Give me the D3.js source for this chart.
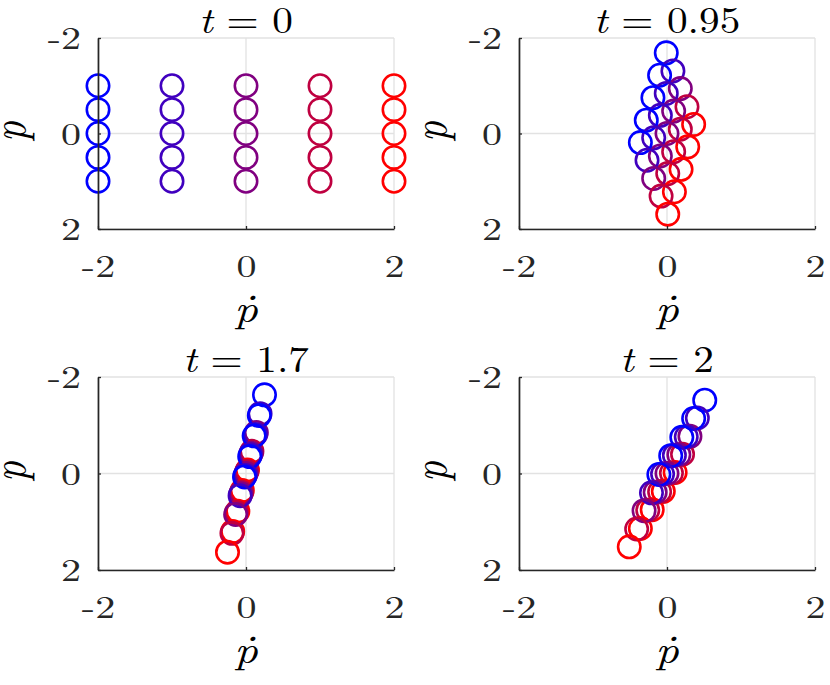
<!DOCTYPE html>
<html><head><meta charset="utf-8">
<script src="https://cdn.jsdelivr.net/npm/d3@7/dist/d3.min.js"></script>
<style>body{margin:0;background:#fff}svg{display:block}</style>
</head><body>
<svg id="chart" width="830" height="685"></svg>
<script>
// ---- data ----
const axisTicks = [-2, 0, 2];
const tickLabels = ["-2", "0", "2"];
const timeLabels = ["0", "0.95", "1.7", "2"];
const columnColors = ["#0000ff", "#4000bf", "#800080", "#bf0040", "#ff0000"];
// colour column (initial pdot index) of each of the 25 points, row by row
const colorIndex = [0,1,2,3,4, 0,1,2,3,4, 0,1,2,3,4, 0,1,2,3,4, 0,1,2,3,4];

// t = 0
const pdotT0 = [-2,-1,0,1,2, -2,-1,0,1,2, -2,-1,0,1,2, -2,-1,0,1,2, -2,-1,0,1,2];
const pT0    = [-1,-1,-1,-1,-1, -0.5,-0.5,-0.5,-0.5,-0.5, 0,0,0,0,0, 0.5,0.5,0.5,0.5,0.5, 1,1,1,1,1];
// t = 0.95
const pdotT1 = [-0.01,0.08,0.18,0.27,0.36, -0.10,-0.01,0.09,0.18,0.28, -0.19,-0.09,0,0.09,0.19, -0.28,-0.18,-0.09,0.01,0.10, -0.36,-0.27,-0.18,-0.08,0.01];
const pT1    = [-1.69,-1.31,-0.94,-0.56,-0.19, -1.22,-0.84,-0.47,-0.09,0.28, -0.75,-0.38,0,0.38,0.75, -0.28,0.09,0.47,0.84,1.22, 0.19,0.56,0.94,1.31,1.69];
// t = 1.7
const pdotT2 = [0.25,0.19,0.14,0.08,0.02, 0.18,0.13,0.07,0.01,-0.05, 0.11,0.06,0,-0.06,-0.11, 0.05,-0.01,-0.07,-0.13,-0.18, -0.02,-0.08,-0.14,-0.19,-0.25];
const pT2    = [-1.63,-1.24,-0.85,-0.46,-0.07, -1.20,-0.81,-0.42,-0.04,0.35, -0.78,-0.39,0,0.39,0.78, -0.35,0.04,0.42,0.81,1.20, 0.07,0.46,0.85,1.24,1.63];
// t = 2
const pdotT3 = [0.51,0.41,0.31,0.21,0.11, 0.36,0.26,0.16,0.06,-0.05, 0.20,0.10,0,-0.10,-0.20, 0.05,-0.06,-0.16,-0.26,-0.36, -0.11,-0.21,-0.31,-0.41,-0.51];
const pT3    = [-1.52,-1.15,-0.77,-0.40,-0.02, -1.14,-0.76,-0.39,-0.01,0.37, -0.75,-0.38,0,0.38,0.75, -0.37,0.01,0.39,0.76,1.14, 0.02,0.40,0.77,1.15,1.52];

const panelData = [
  {pdot: pdotT0, p: pT0, label: timeLabels[0]},
  {pdot: pdotT1, p: pT1, label: timeLabels[1]},
  {pdot: pdotT2, p: pT2, label: timeLabels[2]},
  {pdot: pdotT3, p: pT3, label: timeLabels[3]}
];

// ---- layout ----
const boxes = [
  {l: 98,  r: 394, t: 38,  b: 229},
  {l: 519, r: 815, t: 38,  b: 229},
  {l: 98,  r: 394, t: 377, b: 570},
  {l: 519, r: 815, t: 377, b: 570}
];
const SERIF = "'Latin Modern Roman','CMU Serif','Liberation Serif','DejaVu Serif',serif";
const MATH = "'Latin Modern Math','Latin Modern Roman','CMU Serif','Liberation Serif',serif";
const svg = d3.select("#chart");
svg.append("rect").attr("width", 830).attr("height", 685).attr("fill", "#fff");

panelData.forEach((pd, k) => {
  const box = boxes[k];
  const g = svg.append("g");
  const x = d3.scaleLinear().domain([-2, 2]).range([box.l, box.r]);
  const y = d3.scaleLinear().domain([-2, 2]).range([box.t, box.b]);

  // grid
  g.append("g").selectAll("line").data(axisTicks).join("line")
    .attr("x1", d => x(d)).attr("x2", d => x(d)).attr("y1", box.t).attr("y2", box.b)
    .attr("stroke", "#e2e2e2").attr("stroke-width", 1.3);
  g.append("g").selectAll("line").data(axisTicks).join("line")
    .attr("y1", d => y(d)).attr("y2", d => y(d)).attr("x1", box.l).attr("x2", box.r)
    .attr("stroke", "#e2e2e2").attr("stroke-width", 1.3);

  // points
  g.append("g").selectAll("circle").data(d3.range(pd.pdot.length)).join("circle")
    .attr("cx", i => x(pd.pdot[i])).attr("cy", i => y(pd.p[i])).attr("r", 11.2)
    .attr("fill", "none").attr("stroke", i => columnColors[colorIndex[i]]).attr("stroke-width", 2.6);

  // axes
  const xAxis = d3.axisBottom(x).tickValues(axisTicks).tickSizeInner(-3).tickSizeOuter(0)
    .tickFormat((d, i) => tickLabels[i]);
  const yAxis = d3.axisLeft(y).tickValues(axisTicks).tickSizeInner(-3).tickSizeOuter(0)
    .tickFormat((d, i) => tickLabels[i]);
  const gx = g.append("g").attr("transform", `translate(0,${box.b})`).call(xAxis);
  const gy = g.append("g").attr("transform", `translate(${box.l},0)`).call(yAxis);
  [gx, gy].forEach(a => {
    a.attr("font-family", SERIF).attr("font-size", 32);
    a.select(".domain").attr("stroke", "#262626").attr("stroke-width", 1.7);
    a.selectAll(".tick line").attr("stroke", "#262626").attr("stroke-width", 1.3);
    a.selectAll(".tick text").attr("fill", "#262626");
  });
  gx.selectAll(".tick text").attr("y", null).attr("dy", null)
    .attr("text-anchor", "middle").attr("transform", `translate(0,48) scale(1.25,1)`);
  gy.selectAll(".tick text").attr("x", null).attr("dy", null)
    .attr("text-anchor", "end").attr("transform", `translate(-17,10.5) scale(1.25,1)`);

  const mid = (box.l + box.r) / 2;
  // title
  const tt = g.append("text").attr("font-family", SERIF).attr("font-size", 37.5)
    .attr("text-anchor", "middle").attr("fill", "#000")
    .attr("transform", `translate(${mid},${box.t - 5}) scale(1.1,1)`);
  tt.append("tspan").attr("font-style", "italic").text("t");
  tt.append("tspan").text(" = " + pd.label);

  // x label
  g.append("text").attr("font-family", SERIF).attr("font-size", 40).attr("font-style", "italic")
    .attr("text-anchor", "middle").attr("fill", "#000")
    .attr("transform", `translate(${mid},${box.b + 93}) scale(1.15,1)`).text("ṗ");
  // y label
  g.append("text").attr("font-family", SERIF).attr("font-size", 40).attr("font-style", "italic")
    .attr("text-anchor", "middle").attr("fill", "#000")
    .attr("transform", `translate(${box.l - 73},${(box.t + box.b) / 2 - 2}) scale(1.15,1) rotate(-90)`).text("p");
});
</script>
</body></html>
